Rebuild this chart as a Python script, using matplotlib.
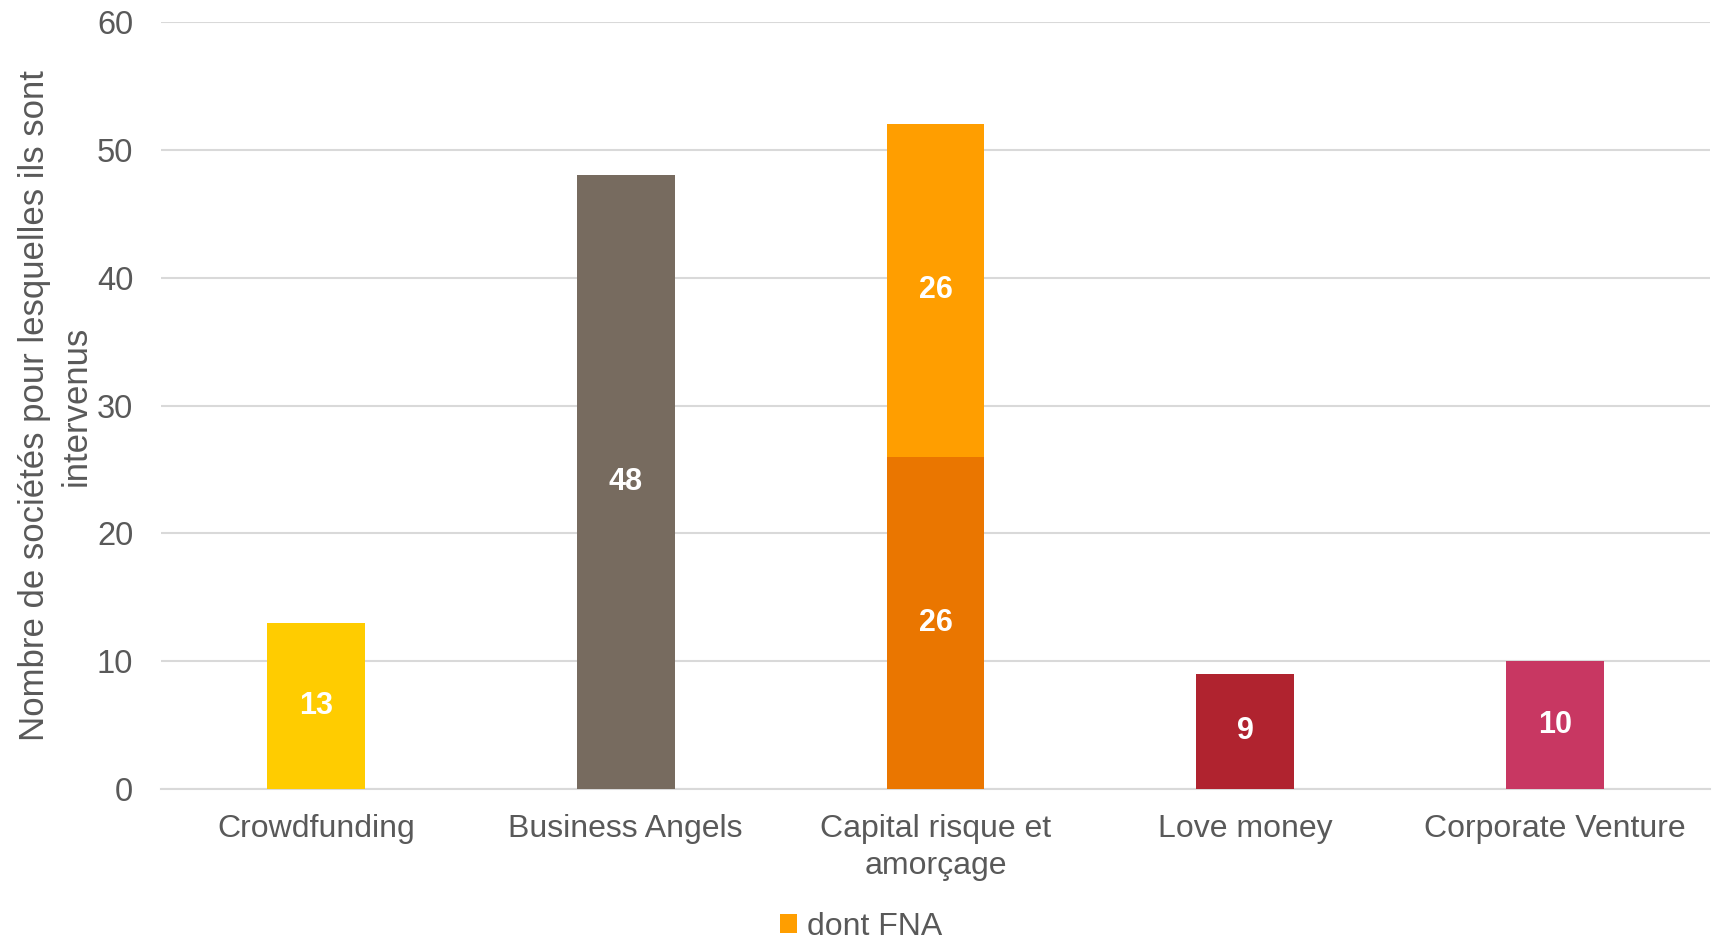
import matplotlib.pyplot as plt
import numpy as np

plt.rcParams['font.family'] = ['Liberation Sans', 'DejaVu Sans']

categories = ['Crowdfunding', 'Business Angels', 'Capital risque et\namorçage', 'Love money', 'Corporate Venture']
base_values = [13, 48, 26, 9, 10]
fna_values = [0, 0, 26, 0, 0]
base_colors = ['#FFCC00', '#776B5F', '#EA7600', '#B0232F', '#C83762']
fna_color = '#FF9E00'
ylabel = 'Nombre de sociétés pour lesquelles ils sont\nintervenus'

fig = plt.figure(figsize=(17.15, 9.4), dpi=100)
ax = fig.add_axes([161 / 1715, 1 - 789 / 940, (1710 - 161) / 1715, (789 - 22) / 940])

x = np.arange(len(categories))
w = 0.316
bars = ax.bar(x, base_values, w, color=base_colors, zorder=3)
top = ax.bar(x, fna_values, w, bottom=base_values, color=fna_color, zorder=3, label='dont FNA')

for b, v in zip(bars, base_values):
    ax.text(b.get_x() + b.get_width() / 2, v / 2, str(v), ha='center', va='center',
            color='white', fontsize=22, fontweight='bold', zorder=4)
for b, v, s in zip(top, fna_values, base_values):
    if v:
        ax.text(b.get_x() + b.get_width() / 2, s + v / 2, str(v), ha='center', va='center',
                color='white', fontsize=22, fontweight='bold', zorder=4)

ax.set_xlim(-0.5, len(categories) - 0.5)
ax.set_ylim(0, 60)
ax.set_yticks(range(0, 61, 10))
ax.set_xticks(x)
ax.set_xticklabels(categories, fontsize=23, color='#595959', linespacing=1.3)
ax.tick_params(axis='y', labelsize=23.5, labelcolor='#595959', length=0, pad=20)
ax.tick_params(axis='x', length=0, pad=18)
ax.grid(axis='y', color='#D9D9D9', linewidth=1.5, zorder=0)
for s in ['top', 'right', 'left']:
    ax.spines[s].set_visible(False)
ax.spines['bottom'].set_color('#D9D9D9')
ax.spines['bottom'].set_linewidth(1.5)
ax.set_ylabel(ylabel, fontsize=25, color='#595959', linespacing=1.35, labelpad=3)

fig.legend(handles=[top], labels=['dont FNA'], loc='center', bbox_to_anchor=(861 / 1715, 1 - 927 / 940),
           frameon=False, fontsize=23, handlelength=0.55, handleheight=0.55, handletextpad=0.3,
           labelcolor='#595959')

fig.savefig('out.png', dpi=100)
